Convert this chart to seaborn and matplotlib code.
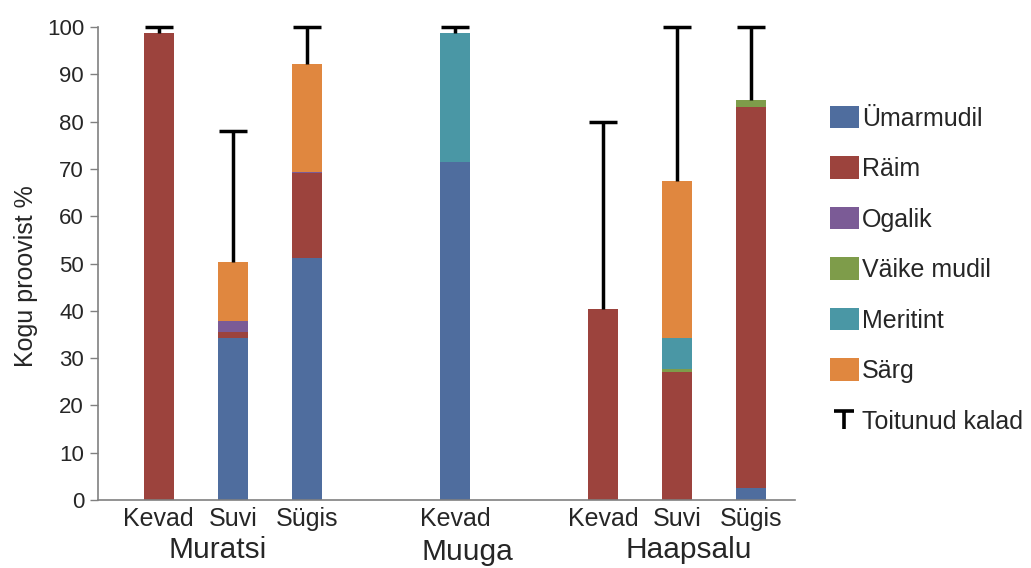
import numpy as np
import pandas as pd
import matplotlib
matplotlib.use("Agg")
import matplotlib.pyplot as plt
from matplotlib.patches import Patch
from matplotlib.lines import Line2D
from matplotlib.path import Path
import seaborn as sns

# ---- data ----
positions = [0, 1, 2, 4, 6, 7, 8]
seasons = ["Kevad", "Suvi", "Sügis", "Kevad", "Kevad", "Suvi", "Sügis"]
sites = ["Muratsi", "Muuga", "Haapsalu"]
site_label_pos = [0.8, 4.17, 7.15]

species = ["Ümarmudil", "Räim", "Ogalik", "Väike mudil", "Meritint", "Särg"]
umarmudil = [0, 34.2, 51.1, 71.5, 0, 0, 2.5]
raim = [98.8, 1.4, 18.0, 0, 40.4, 27.1, 80.5]
ogalik = [0, 2.2, 0.3, 0, 0, 0, 0]
vaike_mudil = [0, 0, 0, 0, 0, 0.5, 1.6]
meritint = [0, 0, 0, 27.3, 0, 6.6, 0]
sarg = [0, 12.6, 22.7, 0, 0, 33.3, 0]
toitunud = [100, 78, 100, 100, 80, 100, 100]

colors = ["#4F6D9E", "#9C433D", "#7B5B96", "#7E9C4A", "#4A97A5", "#E0873F"]

series = [umarmudil, raim, ogalik, vaike_mudil, meritint, sarg]
cum = np.cumsum(np.array(series), axis=0)
rows = []
for si, sp in enumerate(species):
    for pi, p in enumerate(positions):
        rows.append({"pos": p, "species": sp, "cum": cum[si, pi]})
df = pd.DataFrame(rows)
totals = cum[-1]

sns.set_style("white")
plt.rcParams["font.family"] = ["Liberation Sans", "DejaVu Sans"]

fig = plt.figure(figsize=(10.31, 5.68), dpi=100)
ax = fig.add_axes([98 / 1031, 68 / 568, 697 / 1031, 473 / 568])

for si in range(len(species) - 1, -1, -1):
    sub = df[df["species"] == species[si]]
    sns.barplot(data=sub, x="pos", y="cum", native_scale=True, color=colors[si],
                width=0.4, errorbar=None, linewidth=0, saturation=1, ax=ax)

upper = np.array(toitunud) - totals
eb = ax.errorbar(positions, totals, yerr=[np.zeros_like(upper), upper], fmt="none",
                 ecolor="black", elinewidth=2.5, capsize=10, capthick=2.5, zorder=5)
for ln in eb.lines[1]:
    ln.set_clip_on(False)
for lc in eb.lines[2]:
    lc.set_clip_on(False)
if len(eb.lines[1]) == 2:
    eb.lines[1][0].set_visible(False)

ax.set_xlim(-0.82, 8.59)
ax.set_ylim(0, 100)
ax.set_yticks(np.arange(0, 101, 10))
ax.tick_params(axis="y", labelsize=16, length=6, width=1, color="#808080",
               direction="out", left=True, pad=4)
ax.set_xticks(positions)
ax.set_xticklabels(seasons, fontsize=18)
ax.tick_params(axis="x", length=0, pad=5)
ax.set_xlabel("")
ax.set_ylabel("Kogu proovist %", fontsize=18)
ax.yaxis.set_label_coords(-0.086, 0.474)
for s in ["top", "right"]:
    ax.spines[s].set_visible(False)
for s in ["left", "bottom"]:
    ax.spines[s].set_color("#808080")
    ax.spines[s].set_linewidth(1.2)

tr = ax.get_xaxis_transform()
offs = [-0.1226, -0.1268, -0.1226]
for name, x, o in zip(sites, site_label_pos, offs):
    ax.text(x, o, name, transform=tr, ha="center", va="baseline", fontsize=21.5)

# legend
tverts = [(-1, 0.85), (1, 0.85), (0, 0.85), (0, -1)]
tcodes = [Path.MOVETO, Path.LINETO, Path.MOVETO, Path.LINETO]
tmarker = Path(tverts, tcodes)
handles = [Patch(facecolor=c, edgecolor="none") for c in colors]
handles.append(Line2D([], [], color="black", marker=tmarker, markersize=14,
                      markeredgewidth=2.6, linestyle="none"))
labels = species + ["Toitunud kalad"]
fig.legend(handles, labels, loc="center left", bbox_to_anchor=(0.795, 0.525),
           frameon=False, fontsize=18, handlelength=1.16, handleheight=1.0,
           handletextpad=0.12, labelspacing=1.03, borderaxespad=0)

fig.savefig("out.png", dpi=100)
